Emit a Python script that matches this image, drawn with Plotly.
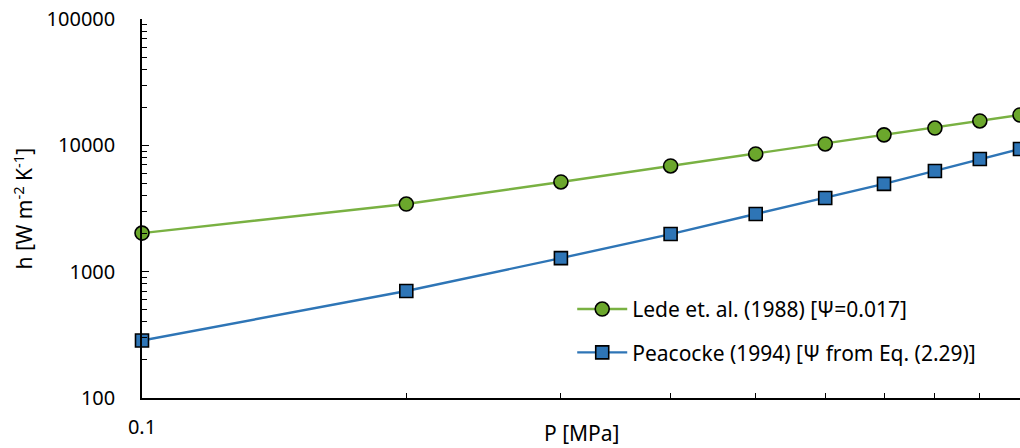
import plotly.graph_objects as go

# Pressure [MPa]
pressure = [0.1, 0.2, 0.3, 0.4, 0.5, 0.6, 0.7, 0.8, 0.9, 1.0]

# Heat transfer coefficient h [W m-2 K-1]
h_lede = [2020, 3430, 5130, 6870, 8550, 10250, 12100, 13700, 15600, 17400]
h_peacocke = [285, 703, 1280, 1985, 2860, 3830, 4950, 6270, 7800, 9360]

lede_name = "Lede et. al. (1988) [Ψ=0.017]"
peacocke_name = "Peacocke (1994) [Ψ from Eq. (2.29)]"

y_ticks = [100, 1000, 10000, 100000]
y_labels = ["100", "1000", "10000", "100000"]
x_ticks = [0.1, 1]
x_labels = ["0.1", "1"]

FONT = "Noto Sans, Open Sans, sans-serif"
GREEN_LINE = "#79B142"
GREEN_FILL = "#6BA72C"
BLUE_LINE = "#2E75B6"
BLUE_FILL = "#2E75B6"

fig = go.Figure()
fig.add_trace(go.Scatter(
    x=pressure, y=h_lede, name=lede_name, mode="lines+markers",
    line=dict(color=GREEN_LINE, width=2.4),
    marker=dict(symbol="circle", size=14, color=GREEN_FILL,
                line=dict(color="black", width=1.6)),
    legendgroup="a", cliponaxis=False,
))
fig.add_trace(go.Scatter(
    x=pressure, y=h_peacocke, name=peacocke_name, mode="lines+markers",
    line=dict(color=BLUE_LINE, width=2.4),
    marker=dict(symbol="square", size=13, color=BLUE_FILL,
                line=dict(color="black", width=1.6)),
    legendgroup="b", cliponaxis=False,
))

axis_common = dict(
    showline=True, linecolor="black", linewidth=1.5,
    ticks="inside", ticklen=7, tickwidth=1.2, tickcolor="black",
    showgrid=False, zeroline=False, mirror=False, automargin=False,
    tickfont=dict(family=FONT, size=20, color="black"),
    minor=dict(ticks="inside", ticklen=5, tickwidth=1.1, tickcolor="black",
               showgrid=False, dtick="D1"),
)

fig.update_xaxes(
    type="log", range=[-1, 0],
    tickvals=x_ticks, ticktext=x_labels,
    ticklabelstandoff=10,
    **axis_common,
)
fig.update_yaxes(
    type="log", range=[2, 5],
    tickvals=y_ticks, ticktext=y_labels,
    ticklabelstandoff=21,
    **axis_common,
)

# Axis titles
fig.add_annotation(
    text="P [MPa]", xref="paper", yref="paper", x=0.501, y=-0.092,
    xanchor="center", yanchor="middle", showarrow=False,
    font=dict(family=FONT, size=21, color="black"),
)
fig.add_annotation(
    text="h [W m<sup>-2</sup> K<sup>-1</sup>]", xref="paper", yref="paper",
    x=-0.1355, y=0.5, xanchor="center", yanchor="middle", textangle=-90,
    showarrow=False, font=dict(family=FONT, size=21, color="black"),
)

fig.update_layout(
    width=1020, height=448,
    margin=dict(l=142, r=0, t=19, b=50),
    paper_bgcolor="white", plot_bgcolor="white",
    font=dict(family=FONT, color="black"),
    showlegend=True,
    legend=dict(
        x=0.49, y=0.177, xanchor="left", yanchor="middle",
        font=dict(family=FONT, size=21, color="black"),
        bgcolor="rgba(0,0,0,0)", tracegroupgap=13,
        traceorder="grouped", itemwidth=50,
    ),
)

fig.write_html("out.html")
